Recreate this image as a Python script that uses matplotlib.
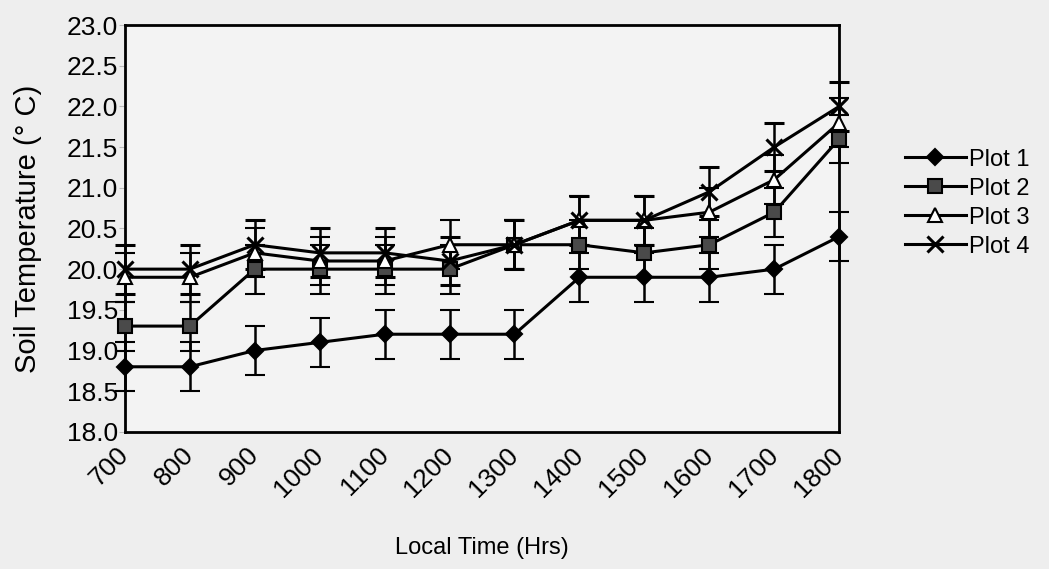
import numpy as np
import matplotlib.pyplot as plt
from matplotlib.lines import Line2D

plt.rcParams['font.family'] = ['Liberation Sans', 'DejaVu Sans']

times = ['700', '800', '900', '1000', '1100', '1200',
         '1300', '1400', '1500', '1600', '1700', '1800']

plot1 = [18.8, 18.8, 19.0, 19.1, 19.2, 19.2, 19.2, 19.9, 19.9, 19.9, 20.0, 20.4]
plot2 = [19.3, 19.3, 20.0, 20.0, 20.0, 20.0, 20.3, 20.3, 20.2, 20.3, 20.7, 21.6]
plot3 = [19.9, 19.9, 20.2, 20.1, 20.1, 20.3, 20.3, 20.6, 20.6, 20.7, 21.1, 21.8]
plot4 = [20.0, 20.0, 20.3, 20.2, 20.2, 20.1, 20.3, 20.6, 20.6, 20.95, 21.5, 22.0]
err = 0.3

series = [
    ('Plot 1', plot1, dict(marker='D', markersize=8, markerfacecolor='black', markeredgewidth=1.5)),
    ('Plot 2', plot2, dict(marker='s', markersize=10, markerfacecolor='#4a4a4a', markeredgewidth=1.5)),
    ('Plot 3', plot3, dict(marker='^', markersize=10, markerfacecolor='white', markeredgewidth=1.5)),
    ('Plot 4', plot4, dict(marker='x', markersize=11, markeredgewidth=2.2)),
]

fig = plt.figure(figsize=(10.49, 5.69), dpi=100, facecolor='#eeeeee')
ax = fig.add_axes([0.119, 0.241, 0.681, 0.715], facecolor='#f3f3f3')

x = np.arange(len(times))
handles = []
for name, vals, style in series:
    ax.errorbar(x, vals, yerr=err, color='black', linewidth=2.2,
                elinewidth=1.8, capsize=7, capthick=1.8,
                markeredgecolor='black', clip_on=False, zorder=3, **style)
    handles.append(Line2D([], [], color='black', linewidth=2.2,
                          markeredgecolor='black', label=name, **style))

ax.set_xlim(0, len(times) - 1)
ax.set_ylim(18.0, 23.0)
yt = np.arange(18.0, 23.01, 0.5)
ax.set_yticks(yt)
ax.set_yticklabels([f'{v:.1f}' for v in yt])
ax.set_xticks(x)
ax.set_xticklabels(times, rotation=45, ha='right', va='center',
                   rotation_mode='anchor')

ax.tick_params(axis='x', length=0, pad=14, labelsize=19)
ax.tick_params(axis='y', length=4, color='#bbbbbb', pad=1, labelsize=19)
for s in ax.spines.values():
    s.set_linewidth(2)

ax.set_xlabel('Local Time (Hrs)', fontsize=17, labelpad=26)
ax.set_ylabel('Soil Temperature (° C)', fontsize=21, labelpad=18)

fig.legend(handles=handles, loc='center left', bbox_to_anchor=(0.842, 0.643),
           frameon=False, fontsize=17, handlelength=2.6, handletextpad=0.15,
           labelspacing=0.3)

fig.savefig('out.png', dpi=100, facecolor=fig.get_facecolor())
